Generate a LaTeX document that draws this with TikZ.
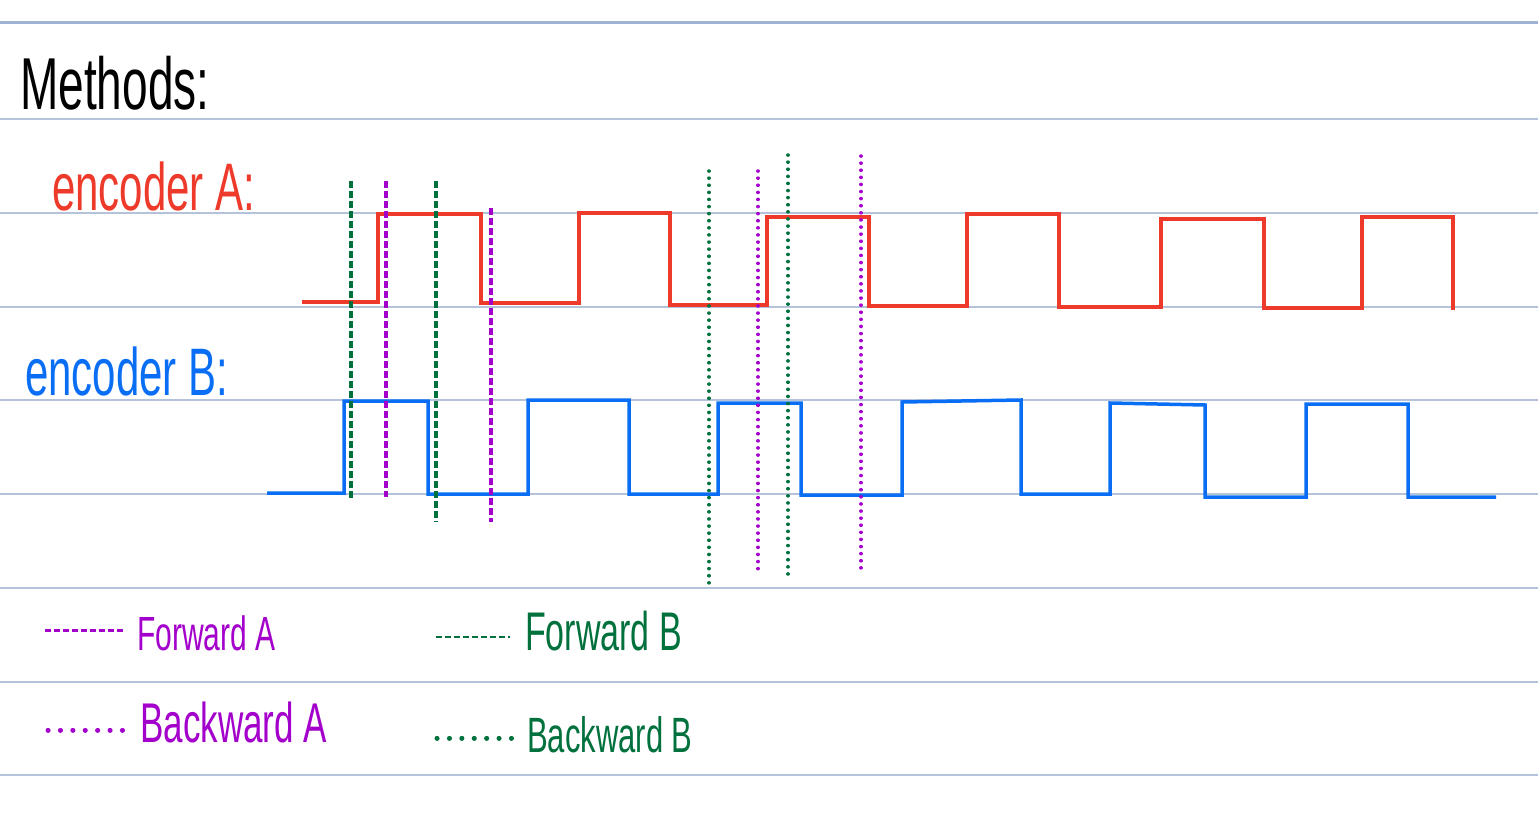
\documentclass[tikz,border=0pt]{standalone}
\usepackage{fontspec}
\setmainfont{Liberation Sans}
\usepackage{graphicx}
\definecolor{rulecol}{HTML}{B4C3DA}
\definecolor{topcol}{HTML}{9FB4D4}
\definecolor{sigA}{HTML}{EE3A2A}
\definecolor{sigB}{HTML}{0A6EF5}
\definecolor{markA}{HTML}{A400CC}
\definecolor{markB}{HTML}{00703C}
\newcommand{\tallword}[1]{\scalebox{1}[1.6]{#1}}
\tikzset{
  ruled/.style={draw=rulecol, line width=1.3pt},
  wave/.style={line width=3.5pt, line join=miter},
  fwdmark/.style={line width=3.5pt, dash pattern=on 7pt off 3pt},
  bwdmark/.style={line width=3.5pt, line cap=round, dash pattern=on 0.1pt off 7pt},
  hand/.style={inner sep=0pt, anchor=base west},
}
\begin{document}
\begin{tikzpicture}[x=1pt, y=-1pt]
  \useasboundingbox (0,0) rectangle (1538,837);

  % ruled paper
  \draw[ruled, line width=3pt, draw=topcol] (0,23) -- (1538,23);
  \foreach \y in {119,213,307,400,494,588,682,775}
    \draw[ruled] (0,\y) -- (1538,\y);

  % titles
  \node (title) [hand, font=\fontsize{46}{50}\selectfont] at (20,110)
        {\tallword{Methods:}};
  \node (encA) [hand, text=sigA, font=\fontsize{42}{46}\selectfont] at (52,210)
        {\tallword{encoder A:}};
  \node (encB) [hand, text=sigB, font=\fontsize{42}{46}\selectfont] at (25,395)
        {\tallword{encoder B:}};

  % encoder signals
  \draw[wave, sigA] (302,302) -- (378,302) -- (378,214) -- (481,214)
    -- (481,303) -- (579,303) -- (579,213) -- (670,213) -- (670,305)
    -- (767,305) -- (767,217) -- (869,217) -- (869,306) -- (967,306)
    -- (967,214) -- (1059,214) -- (1059,307) -- (1161,307) -- (1161,219)
    -- (1264,219) -- (1264,308) -- (1362,308) -- (1362,217) -- (1453,217)
    -- (1453,310);
  \draw[wave, sigB] (267,493) -- (344,493) -- (344,401) -- (428,401)
    -- (428,494) -- (528,494) -- (528,400) -- (629,400) -- (629,494)
    -- (718,494) -- (718,403) -- (801,403) -- (801,495) -- (902,495)
    -- (902,402) -- (1021,400) -- (1021,494) -- (1110,494) -- (1110,403)
    -- (1205,405) -- (1205,497) -- (1306,497) -- (1306,404) -- (1408,404)
    -- (1408,497) -- (1496,497);

  % edge markers
  \draw[fwdmark, markB] (351,181) -- (351,500);
  \draw[fwdmark, markB] (436,181) -- (436,522);
  \draw[fwdmark, markA] (386,181) -- (386,497);
  \draw[fwdmark, markA] (491,208) -- (491,522);
  \draw[bwdmark, markB] (709,171) -- (709,587);
  \draw[bwdmark, markB] (788,155) -- (788,578);
  \draw[bwdmark, markA] (758,171) -- (758,570);
  \draw[bwdmark, markA] (861,156) -- (861,570);

  % legend
  \coordinate (keyFA) at (45,630);
  \coordinate (keyFB) at (436,637);
  \coordinate (keyBA) at (48,730);
  \coordinate (keyBB) at (437,738);
  \node (fwdA) [hand, text=markA, font=\fontsize{30}{34}\selectfont] at (137,650)
        {\tallword{Forward A}};
  \node (fwdB) [hand, text=markB, font=\fontsize{34}{38}\selectfont] at (525,650)
        {\tallword{Forward B}};
  \node (bwdA) [hand, text=markA, font=\fontsize{35}{39}\selectfont] at (140,742)
        {\tallword{Backward A}};
  \node (bwdB) [hand, text=markB, font=\fontsize{31}{35}\selectfont] at (527,752)
        {\tallword{Backward B}};
  \draw[markA, line width=3pt, dash pattern=on 6pt off 3pt] (keyFA) -- +(80,0);
  \draw[markB, line width=2.5pt, dash pattern=on 6pt off 3pt] (keyFB) -- +(74,0);
  \draw[markA, line width=5pt, line cap=round, dash pattern=on 0.1pt off 12.3pt] (keyBA) -- +(76,0);
  \draw[markB, line width=5pt, line cap=round, dash pattern=on 0.1pt off 12.3pt] (keyBB) -- +(76,0);
\end{tikzpicture}
\end{document}
